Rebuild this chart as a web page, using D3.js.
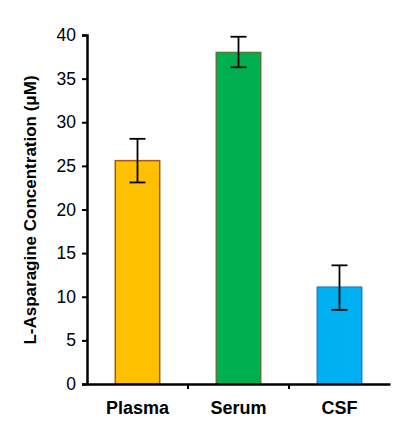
<!DOCTYPE html>
<html><head><meta charset="utf-8">
<script src="https://cdn.jsdelivr.net/npm/d3@7.9.0/dist/d3.min.js"></script>
<style>body{margin:0;background:#fff}</style>
</head><body><svg id="chart"></svg>
<script>
const categories = ["Plasma", "Serum", "CSF"];
const values = [25.6, 38.0, 11.1];
const errLow = [23.1, 36.3, 8.5];
const errHigh = [28.1, 39.8, 13.6];
const fills = ["#FFC000", "#00B050", "#00B0F0"];
const strokes = ["#A0581C", "#4E7B3A", "#2C7FC0"];
const yTicks = [0, 5, 10, 15, 20, 25, 30, 35, 40];

const svg = d3.select("#chart").attr("width", 402).attr("height", 425);
const x = d3.scaleBand().domain(categories).range([87, 390]).paddingInner(0.56).paddingOuter(0.28);
const y = d3.scaleLinear().domain([0, 40]).range([384, 35]);
const font = "Liberation Sans, Arial, sans-serif";

svg.selectAll("rect.bar").data(values).enter().append("rect")
  .attr("x", (d, i) => x(categories[i]))
  .attr("y", d => y(d))
  .attr("width", x.bandwidth())
  .attr("height", d => y(0) - y(d))
  .attr("fill", (d, i) => fills[i])
  .attr("stroke", (d, i) => strokes[i])
  .attr("stroke-width", 1.5);

const eg = svg.selectAll("g.err").data(values).enter().append("g")
  .attr("stroke", "#000").attr("stroke-width", 1.8);
eg.append("line")
  .attr("x1", (d, i) => x(categories[i]) + x.bandwidth() / 2)
  .attr("x2", (d, i) => x(categories[i]) + x.bandwidth() / 2)
  .attr("y1", (d, i) => y(errLow[i])).attr("y2", (d, i) => y(errHigh[i]));
[errLow, errHigh].forEach(arr => {
  eg.append("line")
    .attr("x1", (d, i) => x(categories[i]) + x.bandwidth() / 2 - 8)
    .attr("x2", (d, i) => x(categories[i]) + x.bandwidth() / 2 + 8)
    .attr("y1", (d, i) => y(arr[i])).attr("y2", (d, i) => y(arr[i]));
});

const yAxis = svg.append("g").attr("transform", "translate(87,0)")
  .call(d3.axisLeft(y).tickValues(yTicks).tickSize(5).tickPadding(6));
yAxis.select(".domain").attr("stroke-width", 2.5);
yAxis.selectAll("line").attr("stroke-width", 2);
yAxis.selectAll("text").style("font-family", font).style("font-size", "17.5px").attr("fill", "#000");

const xAxis = svg.append("g").attr("transform", "translate(0,384)")
  .call(d3.axisBottom(x).tickSize(0).tickPadding(17));
xAxis.select(".domain").attr("stroke-width", 2.5);
xAxis.selectAll("text").style("font-family", font).style("font-size", "18px")
  .style("font-weight", "bold").attr("fill", "#000");
// category separators
xAxis.selectAll("line.sep").data(categories.slice(1)).enter().append("line")
  .attr("x1", d => x(d) - x.step() * x.paddingInner() / 2)
  .attr("x2", d => x(d) - x.step() * x.paddingInner() / 2)
  .attr("y1", 0).attr("y2", 5).attr("stroke", "#000").attr("stroke-width", 2);

svg.append("text")
  .attr("transform", "translate(36,210) rotate(-90)")
  .attr("text-anchor", "middle")
  .style("font-family", font).style("font-size", "17px").style("font-weight", "bold")
  .text("L-Asparagine Concentration (μM)");
</script></body></html>
